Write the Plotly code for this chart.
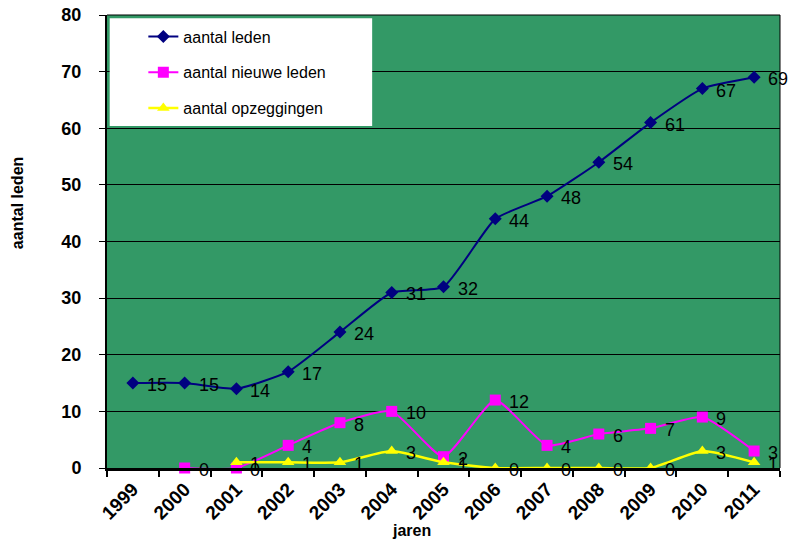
import plotly.graph_objects as go

years = ["1999", "2000", "2001", "2002", "2003", "2004", "2005", "2006", "2007", "2008", "2009", "2010", "2011"]
leden = [15, 15, 14, 17, 24, 31, 32, 44, 48, 54, 61, 67, 69]
nieuw_years = years[1:]
nieuw = [0, 0, 4, 8, 10, 2, 12, 4, 6, 7, 9, 3]
opz_years = years[2:]
opz = [1, 1, 1, 3, 1, 0, 0, 0, 0, 3, 1]

FONT = "Liberation Sans, Arial, sans-serif"
BG = "#339966"

fig = go.Figure()
fig.add_trace(go.Scatter(
    x=years, y=leden, name="aantal leden", mode="lines+markers",
    line=dict(color="#000080", width=2, shape="spline", smoothing=0.5),
    marker=dict(symbol="diamond", size=10, color="#000080"),
    legendgroup="a", cliponaxis=False))
fig.add_trace(go.Scatter(
    x=nieuw_years, y=nieuw, name="aantal nieuwe leden", mode="lines+markers",
    line=dict(color="#FF00FF", width=2, shape="spline", smoothing=0.5),
    marker=dict(symbol="square", size=11, color="#FF00FF"),
    legendgroup="b", cliponaxis=False))
fig.add_trace(go.Scatter(
    x=opz_years, y=opz, name="aantal opzeggingen", mode="lines+markers",
    line=dict(color="#FFFF00", width=2.5, shape="spline", smoothing=0.5),
    marker=dict(symbol="triangle-up", size=11, color="#FFFF00"),
    legendgroup="c", cliponaxis=False))

annotations = []
for xs, ys in ((years, leden), (nieuw_years, nieuw), (opz_years, opz)):
    for xv, yv in zip(xs, ys):
        annotations.append(dict(
            x=years.index(xv), y=yv, xref="x", yref="y", text=str(yv), showarrow=False,
            xanchor="left", yanchor="middle", xshift=12, yshift=-2,
            font=dict(family=FONT, size=18, color="black")))

annotations.append(dict(
    x=-0.132, y=0.585, xref="paper", yref="paper", text="<b>aantal leden</b>",
    textangle=-90, showarrow=False, xanchor="center", yanchor="middle",
    font=dict(family=FONT, size=16, color="black")))
annotations.append(dict(
    x=0.453, y=-0.137, xref="paper", yref="paper", text="<b>jaren</b>",
    showarrow=False, xanchor="center", yanchor="middle",
    font=dict(family=FONT, size=16, color="black")))

fig.update_layout(
    width=793, height=542,
    margin=dict(l=107, r=13, t=15, b=74, autoexpand=False),
    paper_bgcolor="white", plot_bgcolor=BG,
    font=dict(family=FONT, color="black"),
    showlegend=True,
    legend=dict(x=0.054, y=0.99, xanchor="left", yanchor="top",
                bgcolor="rgba(0,0,0,0)", borderwidth=0,
                traceorder="grouped", tracegroupgap=12,
                font=dict(family=FONT, size=16, color="black")),
    annotations=annotations,
    shapes=[
        dict(type="rect", xref="paper", yref="paper", x0=0.004, x1=0.394,
             y0=0.755, y1=0.993, fillcolor="white", line=dict(width=0), layer="above"),
        dict(type="line", xref="paper", yref="paper", x0=1, x1=1, y0=0, y1=1,
             line=dict(color="black", width=1), layer="above"),
        dict(type="line", xref="paper", yref="paper", x0=0, x1=1, y0=1, y1=1,
             line=dict(color="black", width=1), layer="above"),
    ],
    xaxis=dict(type="category", range=[-0.5, 12.5], tickson="boundaries",
               ticks="outside", ticklen=6, tickcolor="black", tickwidth=1.5,
               showgrid=False, zeroline=False, showline=True, linecolor="black", linewidth=2.5,
               tickangle=-45, automargin=False,
               tickfont=dict(family=FONT, size=19, color="black", weight="bold")),
    yaxis=dict(range=[0, 80], dtick=10, ticks="outside", ticklen=6, tickcolor="black",
               showgrid=True, gridcolor="black", gridwidth=1, automargin=False,
               zeroline=False, showline=True, linecolor="black", linewidth=2,
               ticklabelstandoff=14, ticklabeloverflow="allow",
               tickfont=dict(family=FONT, size=18, color="black", weight="bold")),
)

fig.write_html("out.html", config={"displayModeBar": False},
               post_script="document.body.style.margin='0';document.body.style.padding='0';")
